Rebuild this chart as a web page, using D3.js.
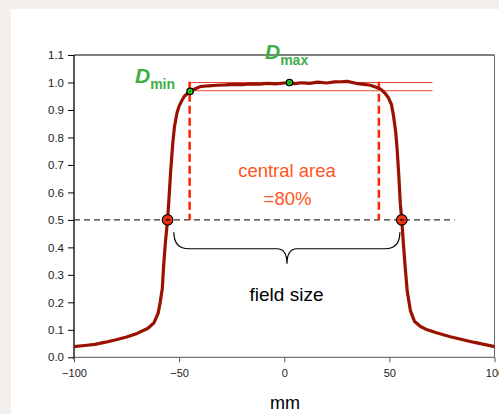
<!DOCTYPE html>
<html><head><meta charset="utf-8">
<script src="https://cdn.jsdelivr.net/npm/d3@7"></script>
<style>
html,body{margin:0;padding:0;background:#f3efec;}
svg{display:block;font-family:"Liberation Sans",Arial,sans-serif;}
</style></head>
<body>
<script>
const profileX = [-100,-95,-90,-85,-80,-75,-70,-65,-62,-60,-59,-58,-57.4,-56.5,-55.5,-54.8,-54,-53,-52.2,-51,-50,-48.5,-47.5,-46,-44.5,-42,-40,-36,-32,-28,-24,-20,-16,-12,-8,-4,0,2.5,5,8,12,16,20,24,28,30,34,38,41,44,46,48,49.5,51,52,53,53.7,54.5,55.2,55.9,56.6,57.5,58.5,60,62,64.8,68,72,79,85,90,95,100];
const profileY = [0.039,0.043,0.047,0.055,0.064,0.074,0.087,0.105,0.125,0.16,0.2,0.25,0.33,0.42,0.5,0.58,0.68,0.78,0.84,0.89,0.914,0.937,0.95,0.96,0.969,0.978,0.985,0.988,0.99,0.991,0.993,0.992,0.995,0.994,0.997,0.995,0.998,1.0,0.996,0.999,0.997,1.001,0.998,1.002,1.003,1.004,0.997,0.993,0.99,0.982,0.975,0.96,0.945,0.92,0.877,0.82,0.756,0.66,0.56,0.5,0.42,0.33,0.24,0.17,0.13,0.112,0.1,0.09,0.075,0.064,0.055,0.047,0.039];
const xTicks = [-100,-50,0,50,100];
const yTicks = [0.0,0.1,0.2,0.3,0.4,0.5,0.6,0.7,0.8,0.9,1.0,1.1];
const halfMax = 0.5;
const fieldEdges = [-55.5,55.9];
const centralEdges = [-45,45];
const refLevels = [1.0,0.97];
const dMin = {x:-44.8, y:0.968};
const dMax = {x:2.5, y:1.0};

const W=499,H=414;
const svg=d3.select("body").append("svg").attr("width",W).attr("height",H);
svg.append("rect").attr("x",11).attr("y",9).attr("width",W-11).attr("height",H-9).attr("fill","#fff");

const x=d3.scaleLinear().domain([-100,100]).range([74,494.5]);
const y=d3.scaleLinear().domain([0,1.1]).range([357.3,55]);

// frame
svg.append("line").attr("x1",x(-100)).attr("x2",x(100)).attr("y1",y(1.1)).attr("y2",y(1.1)).attr("stroke","#000").attr("stroke-width",1);
svg.append("line").attr("x1",x(100)).attr("x2",x(100)).attr("y1",y(1.1)).attr("y2",y(0)).attr("stroke","#666").attr("stroke-width",1);

// axes
const yAxis=svg.append("g").attr("transform",`translate(${x(-100)},0)`)
  .call(d3.axisLeft(y).tickValues(yTicks).tickFormat(d3.format(".1f")).tickSize(6).tickPadding(4));
yAxis.select(".domain").attr("stroke","#000").attr("stroke-width",1.3).attr("d",`M0,${y(1.1)}V${y(0)+2}`);
yAxis.selectAll("text").attr("font-size",11.5).attr("fill","#222");
const xAxis=svg.append("g").attr("transform",`translate(0,${y(0)})`)
  .call(d3.axisBottom(x).tickValues(xTicks).tickSize(5).tickPadding(7));
xAxis.select(".domain").attr("stroke","#777").attr("stroke-width",1.3).attr("d",`M${x(-100)},0H${x(100)}`);
xAxis.selectAll(".tick line").attr("stroke","#555");
xAxis.selectAll("text").attr("font-size",11).attr("fill","#222");

// 50% dashed line
svg.append("line").attr("x1",x(-100)).attr("x2",x(81)).attr("y1",y(halfMax)).attr("y2",y(halfMax))
  .attr("stroke","#000").attr("stroke-width",1).attr("stroke-dasharray","6,4");

// reference lines
refLevels.forEach(v=>{
  svg.append("line").attr("x1",x(-45)).attr("x2",x(70.5)).attr("y1",y(v)).attr("y2",y(v))
    .attr("stroke","#ee3322").attr("stroke-width",1).attr("opacity",0.9);
});

// central area dashed red
centralEdges.forEach(v=>{
  svg.append("line").attr("x1",x(v)).attr("x2",x(v)).attr("y1",y(1.003)).attr("y2",y(0.5))
    .attr("stroke","#ff2200").attr("stroke-width",2.5).attr("stroke-dasharray","8,4");
});

// profile curve
svg.append("path").datum(profileX.map((d,i)=>[d,profileY[i]]))
  .attr("d",d3.line().x(d=>x(d[0])).y(d=>y(d[1])))
  .attr("fill","none").attr("stroke","#991100").attr("stroke-width",3.2).attr("stroke-linejoin","round");

// 50% markers
fieldEdges.forEach(v=>{
  svg.append("circle").attr("cx",x(v)).attr("cy",y(halfMax)).attr("r",5.3).attr("fill","#ee3311").attr("stroke","#000").attr("stroke-width",1.2);
  svg.append("line").attr("x1",x(v)-2).attr("x2",x(v)+2.5).attr("y1",y(halfMax)).attr("y2",y(halfMax)).attr("stroke","#000").attr("stroke-width",1.2);
});

// Dmin / Dmax markers
[dMin,dMax].forEach(p=>{
  svg.append("circle").attr("cx",x(p.x)).attr("cy",y(p.y)).attr("r",3.2).attr("fill","#22dd22").attr("stroke","#000").attr("stroke-width",1.3);
  svg.append("circle").attr("cx",x(p.x)).attr("cy",y(p.y)).attr("r",0.9).attr("fill","#114411");
});

// labels
const green="#3fad46";
const t1=svg.append("text").attr("x",135).attr("y",83).attr("fill",green).attr("font-weight","bold");
t1.append("tspan").attr("font-size",21).attr("font-style","italic").text("D");
t1.append("tspan").attr("font-size",14).attr("dy",6).text("min");
const t2=svg.append("text").attr("x",265).attr("y",59).attr("fill",green).attr("font-weight","bold");
t2.append("tspan").attr("font-size",21).attr("font-style","italic").text("D");
t2.append("tspan").attr("font-size",14).attr("dy",6).text("max");

svg.append("text").attr("x",287).attr("y",177).attr("text-anchor","middle").attr("font-size",18.5).attr("fill","#ff5522").text("central area");
svg.append("text").attr("x",287.5).attr("y",205).attr("text-anchor","middle").attr("font-size",18.5).attr("fill","#ff5522").text("=80%");

// brace
const bx0=x(-52.5), bx1=x(55), bm=x(1.3), by0=y(0.455), by1=y(0.395), bt=y(0.34);
svg.append("path").attr("fill","none").attr("stroke","#000").attr("stroke-width",1.2)
 .attr("d",`M${bx0},${by0} Q${bx0},${by1} ${bx0+15},${by1} L${bm-10},${by1} Q${bm},${by1} ${bm},${bt} Q${bm},${by1} ${bm+10},${by1} L${bx1-15},${by1} Q${bx1},${by1} ${bx1},${by0}`);

svg.append("text").attr("x",286.5).attr("y",301).attr("text-anchor","middle").attr("font-size",19).attr("fill","#000").text("field size");
svg.append("text").attr("x",285).attr("y",409).attr("text-anchor","middle").attr("font-size",18).attr("fill","#000").text("mm");
</script>
</body></html>
